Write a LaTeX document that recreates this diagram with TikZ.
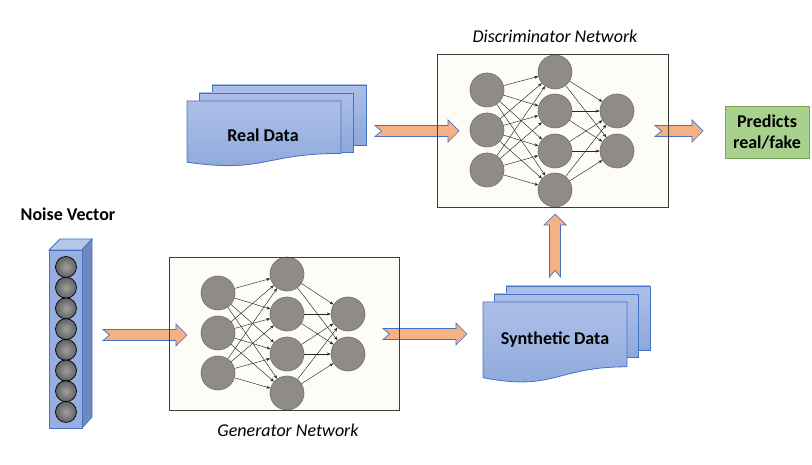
\documentclass[tikz,border=0pt]{standalone}
\usepackage{fontspec}
\setmainfont{Carlito}
\usetikzlibrary{arrows.meta}
\definecolor{arrfill}{HTML}{F4B183}
\definecolor{blueline}{HTML}{4472C4}
\definecolor{doctop}{HTML}{ADBFE8}
\definecolor{docbot}{HTML}{8DA8DB}
\definecolor{boxfill}{HTML}{FDFCF6}
\definecolor{boxline}{HTML}{3C3C3C}
\definecolor{neufill}{HTML}{8F8C88}
\definecolor{neuline}{HTML}{6E6E6E}
\definecolor{greenfill}{HTML}{A9D18E}
\definecolor{greenline}{HTML}{7AA35A}
\definecolor{vecfront}{HTML}{97AEE0}
\definecolor{vecside}{HTML}{7088BE}
\definecolor{vectop}{HTML}{B4C7E7}
\tikzset{
  netbox/.style={rectangle, fill=boxfill, draw=boxline, line width=0.8pt, inner sep=0pt, outer sep=0pt},
  neuron/.style={circle, minimum size=34pt, inner sep=0pt, fill=neufill, draw=neuline, line width=0.6pt},
  vball/.style={circle, minimum size=21pt, inner sep=0pt, draw=black, line width=0.7pt, inner color=gray!75, outer color=black!62},
  conn/.style={-{Stealth[length=4pt,width=3pt]}, line width=0.45pt, black!85},
  doc/.style={draw=blueline, line width=0.8pt, top color=doctop, bottom color=docbot},
  lbl/.style={font=\fontsize{18}{22}\selectfont\bfseries, align=center},
  ttl/.style={font=\fontsize{18}{22}\selectfont\itshape},
  pics/notcharrow/.style={code={
    \filldraw[fill=arrfill, draw=blueline, line width=0.7pt, line join=miter]
      (0,5.5) -- ({#1-11},5.5) -- ({#1-11},11) -- (#1,0) -- ({#1-11},-11)
      -- ({#1-11},-5.5) -- (0,-5.5) -- (6.5,0) -- cycle;
  }}
}
\newcommand\docpath[4]{% x y w h
  (#1,#2) -- ({#1+#3},#2) -- ({#1+#3},{#2+0.8*#4})
  .. controls ({#1+0.5*#3},{#2+0.8*#4}) and ({#1+0.5*#3},{#2+1.107*#4}) .. (#1,{#2+0.934*#4}) -- cycle}
\begin{document}
\begin{tikzpicture}[x=1pt,y=-1pt]
\useasboundingbox (0,0) rectangle (812,465);

% ---------- Noise vector ----------
\filldraw[fill=vectop, draw=blueline, line width=0.8pt] (49,250) -- (60,239) -- (92,239) -- (82,250) -- cycle;
\filldraw[fill=vecside, draw=blueline, line width=0.8pt] (82,250) -- (92,239) -- (92,417) -- (82,428) -- cycle;
\filldraw[fill=vecfront, draw=blueline, line width=0.8pt] (49,250) rectangle (82,428);
\foreach \k in {0,...,7} {
  \node[vball] (n\k) at (66,{267+\k*20.7}) {};
}
\node[lbl] (noiselbl) at (68,214) {Noise Vector};

% ---------- Real data ----------
\draw[doc] (212,85) rectangle (366,145);
\draw[doc] (199,93) rectangle (353,152);
\draw[doc] \docpath{187}{101}{154}{65.5};
\node[lbl] (real) at (263,135) {Real Data};

% ---------- Synthetic data ----------
\draw[doc] (506,286) rectangle (650,350);
\draw[doc] (494,294) rectangle (638,357);
\draw[doc] \docpath{483}{302}{144}{81};
\node[lbl] (synth) at (555,340) {Synthetic Data};

% ---------- Generator network ----------
\node[netbox, minimum width=230pt, minimum height=153pt] (gen) at (284,333.5) {};
\node[ttl] (gentitle) at (288,430) {Generator Network};
\foreach \y [count=\i] in {293,333,373} \node[neuron] (g1\i) at (218,\y) {};
\foreach \y [count=\i] in {274,314,354,393} \node[neuron] (g2\i) at (287,\y) {};
\foreach \y [count=\i] in {314,354} \node[neuron] (g3\i) at (348,\y) {};
\foreach \i in {1,2,3} \foreach \j in {1,2,3,4} \draw[conn] (g1\i) -- (g2\j);
\foreach \i in {1,2,3,4} \foreach \j in {1,2} \draw[conn] (g2\i) -- (g3\j);

% ---------- Discriminator network ----------
\node[netbox, minimum width=231pt, minimum height=153pt] (disc) at (552.5,130.5) {};
\node[ttl] (disctitle) at (555,36) {Discriminator Network};
\foreach \y [count=\i] in {90,130,170} \node[neuron] (d1\i) at (487,\y) {};
\foreach \y [count=\i] in {72,111,151,190} \node[neuron] (d2\i) at (555,\y) {};
\foreach \y [count=\i] in {111,151} \node[neuron] (d3\i) at (617,\y) {};
\foreach \i in {1,2,3} \foreach \j in {1,2,3,4} \draw[conn] (d1\i) -- (d2\j);
\foreach \i in {1,2,3,4} \foreach \j in {1,2} \draw[conn] (d2\i) -- (d3\j);

% ---------- Prediction ----------
\node[lbl, fill=greenfill, draw=greenline, line width=0.8pt, minimum width=84pt, minimum height=52pt, inner sep=0pt] (pred) at (767,132) {Predicts\\[-1pt]real/fake};

% ---------- Fat arrows ----------
\coordinate (a1) at (103,335);
\coordinate (a2) at (383,334);
\coordinate (a3) at (375,131);
\coordinate (a4) at (655,131);
\coordinate (a5) at (555,277);
\pic at (a1) {notcharrow=84};
\pic at (a2) {notcharrow=84};
\pic at (a3) {notcharrow=84};
\pic at (a4) {notcharrow=48};
\pic[rotate=90] at (a5) {notcharrow=63};

% box borders drawn over the arrow tails
\draw[boxline, line width=0.8pt] (gen.north west) rectangle (gen.south east);
\draw[boxline, line width=0.8pt] (disc.north west) rectangle (disc.south east);
\end{tikzpicture}
\end{document}
